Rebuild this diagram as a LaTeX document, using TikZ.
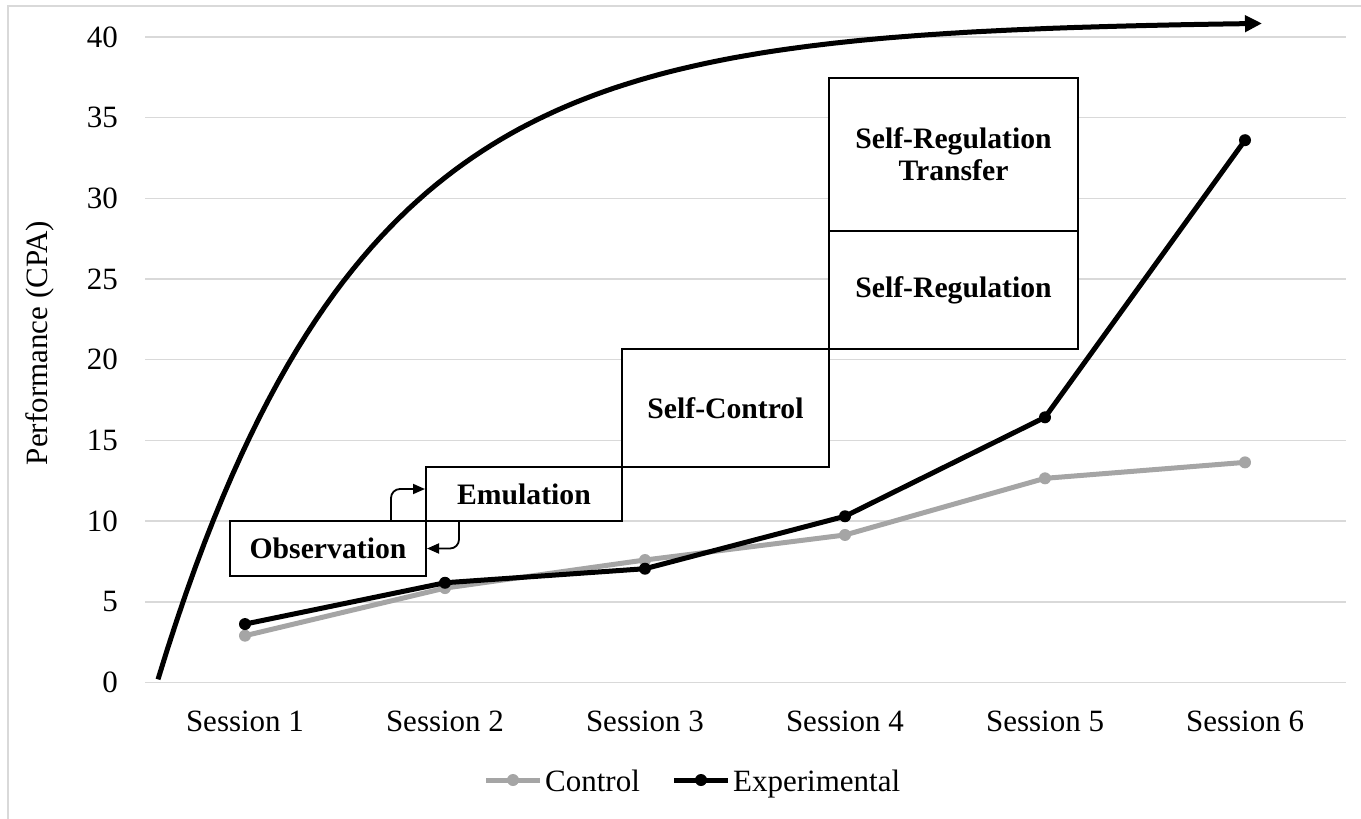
\documentclass[tikz,border=0pt]{standalone}
\usepackage{fontspec}
\setmainfont{Liberation Serif}
\usetikzlibrary{arrows.meta,calc}
\definecolor{gridgray}{HTML}{D9D9D9}
\definecolor{ctrlgray}{HTML}{A5A5A5}

\begin{document}
\begin{tikzpicture}[x=1pt,y=-1pt,
  every node/.style={font=\fontsize{31}{37}\selectfont, inner sep=0pt},
  stage/.style={draw, line width=2pt, fill=white, align=center,
    font=\fontsize{29.7}{32}\selectfont\bfseries},
  gridline/.style={gridgray, line width=1.5pt},
  ctrl/.style={ctrlgray, line width=5pt, line join=round},
  expt/.style={black, line width=5pt, line join=round},
  loop arrow/.style={line width=1.8pt, rounded corners=9pt, -{Triangle[length=12pt,width=10pt]}}]

\useasboundingbox (0,0) rectangle (1361,819);
\draw[gridline] (8,819) -- (8,6) -- (1361,6);

\foreach \v in {0,5,...,40} {
  \draw[gridline] (145,682.5-16.14*\v) -- (1346,682.5-16.14*\v);
  \node[anchor=east] (tick\v) at (118,682.5-16.14*\v) {\v};
}
\foreach \i in {1,...,6}
  \node[anchor=base] (sess\i) at (45+200*\i,731) {Session \i};
\node[rotate=90] (ytitle) at (40,343) {Performance (CPA)};

\node[stage, minimum width=196pt, minimum height=55pt] (obs) at (328,548.5) {Observation};
\node[stage, minimum width=196pt, minimum height=54pt] (emu) at (524,494) {Emulation};
\node[stage, minimum width=207pt, minimum height=118pt] (sc) at (725.5,408) {Self-Control};
\node[stage, minimum width=249pt, minimum height=118pt] (sr) at (953.5,290) {Self-Regulation};
\node[stage, minimum width=249pt, minimum height=153pt] (srt) at (953.5,154.5) {Self-Regulation\\Transfer};

\draw[loop arrow] ([xshift=63pt]obs.north) |- ([yshift=5pt]emu.west);
\draw[loop arrow] ([xshift=-65pt]emu.south) |- (obs.east);

\begin{scope}[shift={(45,682.5)}, x=200pt, y=16.14pt]
  \foreach \v [count=\i] in {2.9,5.85,7.59,9.14,12.65,13.64}
    \coordinate (c\i) at (\i,\v);
  \foreach \v [count=\i] in {3.62,6.18,7.05,10.3,16.43,33.6}
    \coordinate (e\i) at (\i,\v);
  \draw[ctrl] (c1) -- (c2) -- (c3) -- (c4) -- (c5) -- (c6);
  \foreach \i in {1,...,6}
    \fill[ctrlgray] (c\i) circle (6pt);
  \draw[expt] (e1) -- (e2) -- (e3) -- (e4) -- (e5) -- (e6);
  \foreach \i in {1,...,6}
    \fill (e\i) circle (6pt);
\end{scope}

\draw[line width=5pt, -{Triangle[length=17pt,width=16pt]}]
  plot[domain=158:1262, samples=120] (\x, {682.5-661.7*(1-exp(-(\x-157)/200))});

\coordinate (lc1) at (486,780);
\coordinate (lc2) at (540,780);
\coordinate (le1) at (674,780);
\coordinate (le2) at (728,780);
\draw[ctrl] (lc1) -- (lc2);
\fill[ctrlgray] ($(lc1)!0.5!(lc2)$) circle (6pt);
\node[anchor=base west] (lctrl) at (545,791) {Control};
\draw[expt] (le1) -- (le2);
\fill ($(le1)!0.5!(le2)$) circle (6pt);
\node[anchor=base west] (lexpt) at (733,791) {Experimental};
\end{tikzpicture}
\end{document}
